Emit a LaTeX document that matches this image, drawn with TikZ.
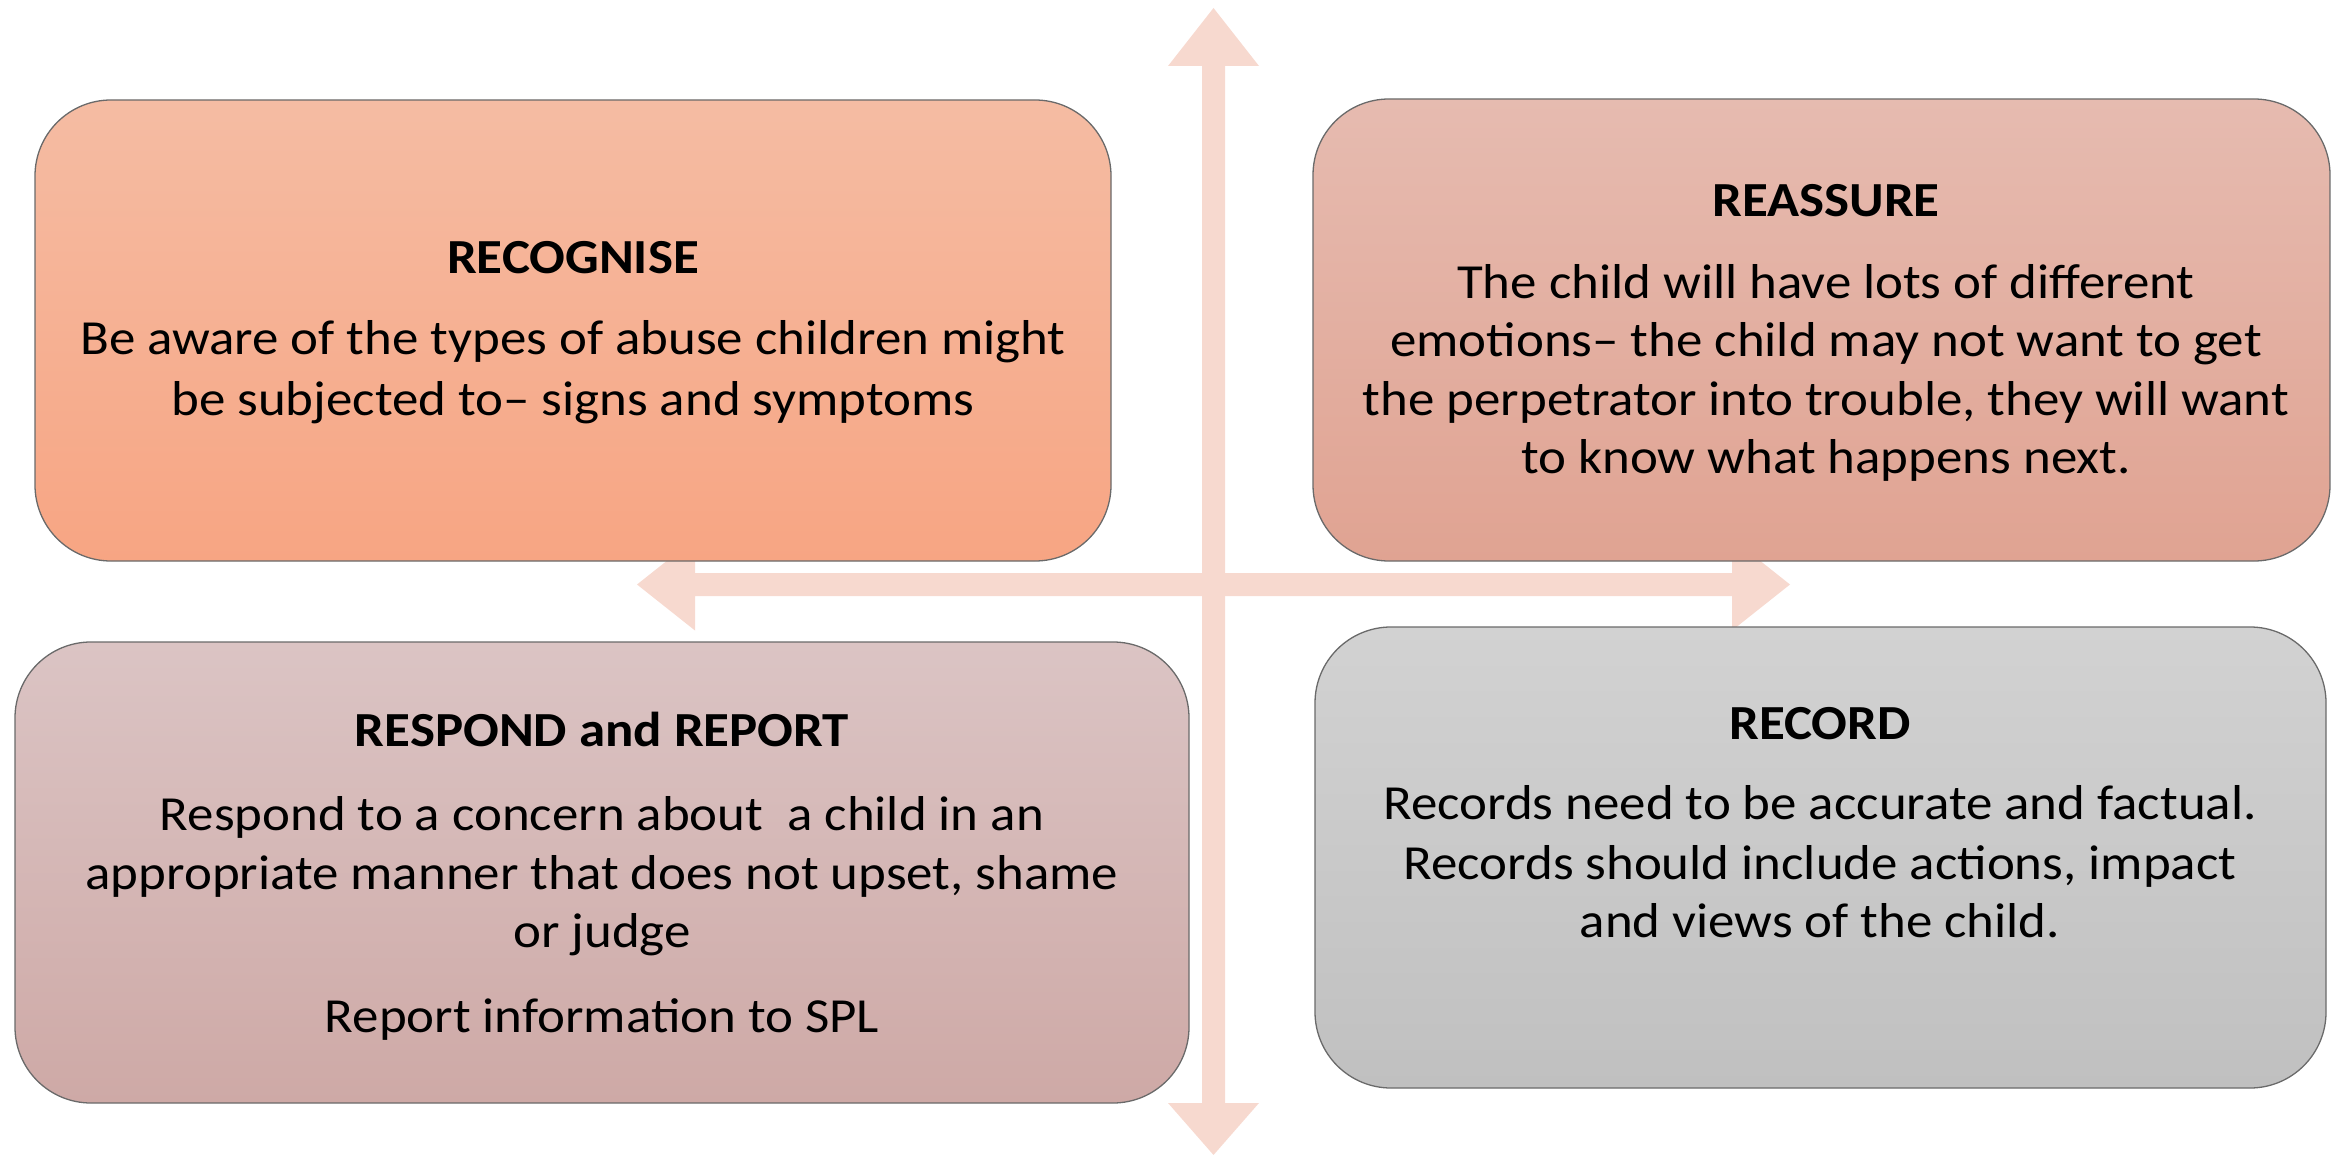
\documentclass[tikz,border=0pt]{standalone}
\usepackage{fontspec}
\setmainfont[FakeStretch=1.08]{Carlito}
\definecolor{arrowc}{HTML}{F7D9CF}
\definecolor{recogT}{HTML}{F5BCA3}
\definecolor{recogB}{HTML}{F7A583}
\definecolor{reasT}{HTML}{E6BBB0}
\definecolor{reasB}{HTML}{E0A392}
\definecolor{respT}{HTML}{DBC4C4}
\definecolor{respB}{HTML}{CEA9A6}
\definecolor{recT}{HTML}{D2D2D2}
\definecolor{recB}{HTML}{C0C0C0}
\definecolor{edge}{HTML}{6A6A6A}
\begin{document}
\begin{tikzpicture}[x=1pt,y=-1pt,
  box/.style={rectangle, rounded corners=76pt, draw=edge, line width=1.3pt, inner sep=0pt, outer sep=0pt},
  ttl/.style={font=\fontsize{49}{58}\selectfont\bfseries, inner sep=0pt, anchor=base},
  body/.style={font=\fontsize{49}{58}\selectfont, inner sep=0pt, anchor=base}]
\useasboundingbox (0,0) rectangle (2331,1155);
% arrows (behind the boxes)
\fill[arrowc] (637,584.5) -- (695,538.5) -- (695,573) -- (1732,573) -- (1732,538.5) -- (1790,584.5) -- (1732,630.5) -- (1732,596) -- (695,596) -- (695,630.5) -- cycle;
\fill[arrowc] (1213.5,8) -- (1259,66) -- (1225,66) -- (1225,1103) -- (1259,1103) -- (1213.5,1155) -- (1168,1103) -- (1202,1103) -- (1202,66) -- (1168,66) -- cycle;
% boxes
\node[box, top color=recogT, bottom color=recogB, minimum width=1076pt, minimum height=461pt] (recognise) at (573,330.5) {};
\node[box, top color=reasT, bottom color=reasB, minimum width=1017pt, minimum height=462pt] (reassure) at (1821.5,330) {};
\node[box, top color=respT, bottom color=respB, minimum width=1174pt, minimum height=461pt] (respond) at (602,872.5) {};
\node[box, top color=recT, bottom color=recB, minimum width=1011pt, minimum height=461pt] (record) at (1820.5,857.5) {};
% RECOGNISE
\node[ttl] (t1) at (573,274) {RECOGNISE};
\node[body] (b1a) at (573,355) {Be aware of the types of abuse children might};
\node[body] (b1b) at (573,415) {be subjected to– signs and symptoms};
% REASSURE
\node[ttl] (t2) at (1826,216.7) {REASSURE};
\node[body] (b2a) at (1826,298.3) {The child will have lots of different};
\node[body] (b2b) at (1826,356.7) {emotions– the child may not want to get};
\node[body] (b2c) at (1826,415) {the perpetrator into trouble, they will want};
\node[body] (b2d) at (1826,473) {to know what happens next.};
% RESPOND and REPORT
\node[ttl] (t3) at (602,746) {RESPOND and REPORT};
\node[body] (b3a) at (602,830) {Respond to a concern about\ \ a child in an};
\node[body] (b3b) at (602,889) {appropriate manner that does not upset, shame};
\node[body] (b3c) at (602,947) {or judge};
\node[body] (b3d) at (602,1032) {Report information to SPL};
% RECORD
\node[ttl] (t4) at (1820,739) {RECORD};
\node[body] (b4a) at (1820,819) {Records need to be accurate and factual.};
\node[body] (b4b) at (1820,879) {Records should include actions, impact};
\node[body] (b4c) at (1820,937) {and views of the child.};
\end{tikzpicture}
\end{document}
